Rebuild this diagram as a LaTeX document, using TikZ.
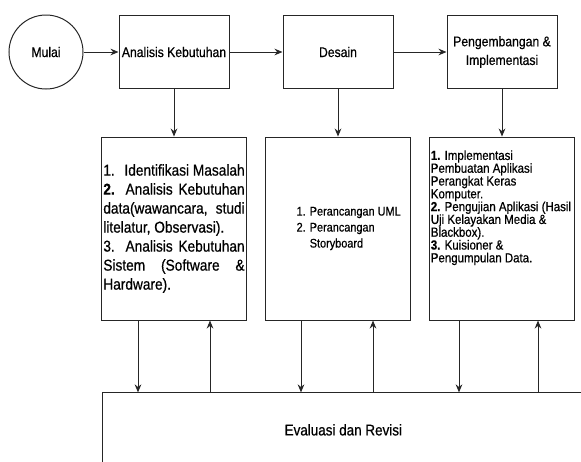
\documentclass[tikz,border=0pt]{standalone}
\usepackage{fontspec}
\setmainfont{Liberation Sans}[FakeStretch=0.87,FakeBold=0.6]
\usepackage{tikz}
\usetikzlibrary{arrows.meta,positioning,calc}

\begin{document}
\begin{tikzpicture}[auto,>={Stealth[length=6pt,width=5pt]},
  line width=0.75pt,draw=black!85,
  start node/.style={circle,draw,minimum size=55.5pt,inner sep=0pt,font=\fontsize{10.5}{14}\selectfont},
  phase node/.style={rectangle,draw,minimum width=82.5pt,minimum height=54.75pt,inner sep=2pt,align=center,font=\fontsize{10.5}{14}\selectfont},
  detail node/.style={rectangle,draw,minimum width=108.75pt,minimum height=137.25pt,inner sep=0pt},
  eval node/.style={rectangle,draw,minimum width=361.5pt,minimum height=55.5pt,font=\fontsize{11.6}{14}\selectfont}]

  \useasboundingbox (0,0) rectangle (435.75pt,-345.75pt);
  \clip (0,0) rectangle (435.75pt,-345.75pt);

  \node[start node] (mulai) at (34.5pt,-39pt) {Mulai};
  \node[phase node] [right of=mulai, node distance=96pt] (analisis) {Analisis Kebutuhan};
  \node[phase node] [right of=analisis, node distance=123pt] (desain) {Desain};
  \node[phase node] [right of=desain, node distance=123pt] (kembang) {Pengembangan \&\\Implementasi};

  \node[detail node] [below of=analisis, node distance=132.4pt] (rinci1) {};
  \node[detail node] [below of=desain, node distance=132.4pt] (rinci2) {};
  \node[detail node] [below of=kembang, node distance=132.4pt] (rinci3) {};

  \node[eval node] [below of=rinci2, node distance=151pt, xshift=4pt] (evaluasi) {Evaluasi dan Revisi};

  % isi kotak rincian
  \node[text width=106pt, align=justify, inner sep=0pt, font=\fontsize{11.8}{14.25}\selectfont] (teks1) at (rinci1) {%
    1.\hfill Identifikasi Masalah\par
    \textbf{2.} Analisis Kebutuhan\linebreak data(wawancara, studi\linebreak litelatur, Observasi).\par
    3. Analisis Kebutuhan\linebreak Sistem (Software \&\linebreak Hardware).};
  \node[align=left, inner sep=0pt, font=\fontsize{9.4}{12}\selectfont, xshift=8pt] (teks2) at (rinci2) {%
    1. Perancangan UML\\2. Perancangan\\\phantom{2. }Storyboard};
  \node[anchor=north west, align=left, inner sep=0pt, font=\fontsize{9.9}{9.6}\selectfont] (teks3)
    at ([xshift=1pt,yshift=-10pt]rinci3.north west) {%
    \textbf{1.} Implementasi\\Pembuatan Aplikasi\\Perangkat Keras\\Komputer.\\
    \textbf{2.} Pengujian Aplikasi (Hasil\\Uji Kelayakan Media \&\\Blackbox).\\
    \textbf{3.} Kuisioner \&\\Pengumpulan Data.};

  \path[->]
    (mulai) edge (analisis)
    (analisis) edge (desain)
    (desain) edge (kembang)
    (analisis) edge (rinci1)
    (desain) edge (rinci2)
    (kembang) edge (rinci3);

  % panah ke evaluasi dan kembali
  \draw[->] ($(rinci1.south west)+(27.75pt,0)$) -- ($(rinci1.south west |- evaluasi.north)+(27.75pt,0)$);
  \draw[<-] ($(rinci1.south west)+(81.75pt,0)$) -- ($(rinci1.south west |- evaluasi.north)+(81.75pt,0)$);
  \draw[->] ($(rinci2.south west)+(27pt,0)$) -- ($(rinci2.south west |- evaluasi.north)+(27pt,0)$);
  \draw[<-] ($(rinci2.south west)+(81pt,0)$) -- ($(rinci2.south west |- evaluasi.north)+(81pt,0)$);
  \draw[->] ($(rinci3.south west)+(22.5pt,0)$) -- ($(rinci3.south west |- evaluasi.north)+(22.5pt,0)$);
  \draw[<-] ($(rinci3.south west)+(81.75pt,0)$) -- ($(rinci3.south west |- evaluasi.north)+(81.75pt,0)$);
\end{tikzpicture}
\end{document}
